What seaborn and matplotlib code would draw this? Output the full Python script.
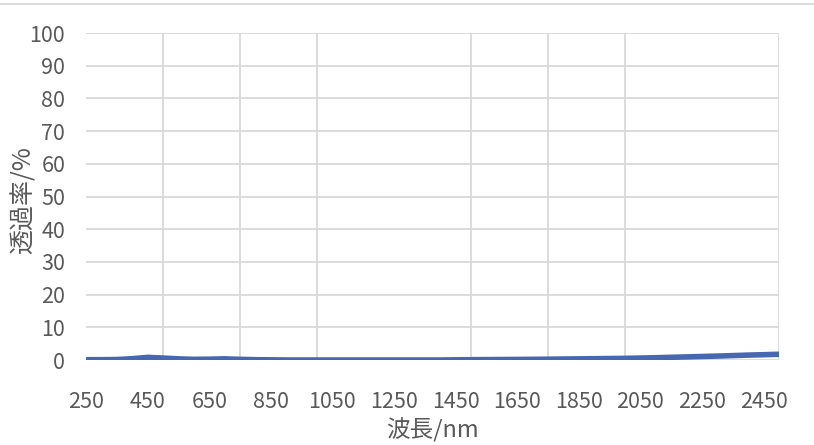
import numpy as np
import pandas as pd
import matplotlib
matplotlib.use('Agg')
import matplotlib.pyplot as plt
import seaborn as sns
from matplotlib.lines import Line2D

# wavelength (nm) and transmittance (%)
wavelength = [250, 300, 350, 400, 450, 500, 550, 600, 650, 700, 750, 800, 850,
              900, 1000, 1100, 1200, 1300, 1400, 1450, 1500, 1600, 1700, 1800,
              1900, 2000, 2100, 2200, 2300, 2400, 2500]
transmittance = [0.1, 0.1, 0.15, 0.4, 0.8, 0.6, 0.35, 0.2, 0.25, 0.35, 0.2, 0.1, 0.05,
                 0.0, 0.0, 0.0, 0.0, 0.0, 0.0, 0.05, 0.1, 0.15, 0.2, 0.3,
                 0.4, 0.5, 0.7, 0.95, 1.2, 1.5, 1.75]
x_labels = list(range(250, 2451, 200))
x_grid = list(range(250, 2501, 250))
y_ticks = list(range(0, 101, 10))

df = pd.DataFrame({'wavelength': wavelength, 'transmittance': transmittance})

sns.set_theme(style='white')
plt.rcParams['font.family'] = ['Noto Sans CJK JP', 'DejaVu Sans']

fig = plt.figure(figsize=(8.14, 4.45), dpi=100)
ax = fig.add_axes([0.1057, 0.191, 0.8513, 0.7348])

sns.lineplot(data=df, x='wavelength', y='transmittance', ax=ax,
             color='#4767B0', linewidth=4, solid_capstyle='butt')

ax.set_xlim(250, 2500)
ax.set_ylim(0, 100)
ax.set_xticks(x_labels)
ax.set_xticks(x_grid, minor=True)
ax.set_yticks(y_ticks)
ax.grid(False)
ax.grid(which='minor', axis='x', color='#D9D9D9', linewidth=1.3)
ax.grid(which='major', axis='y', color='#D9D9D9', linewidth=1.3)
ax.set_axisbelow(True)
ax.tick_params(which='both', length=0)
ax.tick_params(axis='x', pad=22, labelsize=15.5, labelcolor='#595959')
ax.tick_params(axis='y', pad=15, labelsize=15.5, labelcolor='#595959')
for s in ax.spines.values():
    s.set_visible(False)

ax.set_xlabel('波長/nm', fontsize=17, color='#595959', labelpad=4)
ax.set_ylabel('透過率/%', fontsize=18, color='#595959')
ax.yaxis.set_label_coords(-0.072, 0.489)

# thin border line at the top of the chart area
fig.add_artist(Line2D([0, 1], [1 - 3.5 / 445, 1 - 3.5 / 445],
                      transform=fig.transFigure, color='#D9D9D9', linewidth=1.3))

fig.savefig('out.png', dpi=100)
